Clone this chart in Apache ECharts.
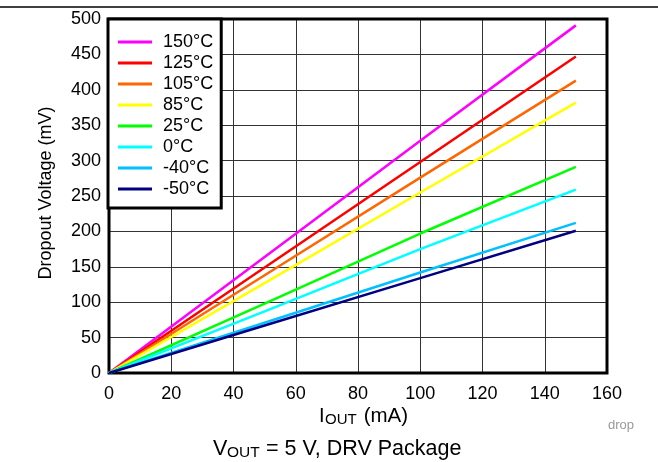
<!DOCTYPE html>
<html><head><meta charset="utf-8">
<script src="https://cdn.jsdelivr.net/npm/echarts@6/dist/echarts.min.js"></script>
<style>html,body{margin:0;padding:0;background:#fff}#c{width:658px;height:462px}</style>
</head><body><div id="c"></div>
<script>
const xValues = [0, 50, 100, 150];
const seriesNames = ['150°C','125°C','105°C','85°C','25°C','0°C','-40°C','-50°C'];
const s150 = [0, 164, 328, 491];
const s125 = [0, 149, 298, 447];
const s105 = [0, 138, 276, 413];
const s85  = [0, 127, 255, 382];
const s25  = [0, 98, 197, 291];
const s0   = [0, 87, 175, 259];
const sM40 = [0, 71, 142, 212];
const sM50 = [0, 67, 134, 201];
const xTicks = [0,20,40,60,80,100,120,140,160];
const yTicks = [0,50,100,150,200,250,300,350,400,450,500];
const colors = ['#ff00ff','#ff0000','#ff6600','#ffff00','#00ff00','#00ffff','#00c0ff','#000080'];
const allData = [s150,s125,s105,s85,s25,s0,sM40,sM50];
const font = 'Liberation Sans, Arial, Helvetica, sans-serif';

const chart = echarts.init(document.getElementById('c'), null, {renderer:'canvas'});
chart.setOption({
  animation:false,
  backgroundColor:'#fff',
  grid:{left:109,right:51,top:19,bottom:89,show:true,borderColor:'#000',borderWidth:3,backgroundColor:'transparent',z:3},
  xAxis:{type:'value',min:xTicks[0],max:xTicks[xTicks.length-1],interval:20,
    axisLine:{show:false},axisTick:{show:false},
    axisLabel:{color:'#000',fontSize:18,fontFamily:font,margin:12},
    splitLine:{show:true,lineStyle:{color:'#333',width:1}}},
  yAxis:{type:'value',min:yTicks[0],max:yTicks[yTicks.length-1],interval:50,
    axisLine:{show:false},axisTick:{show:false},
    axisLabel:{color:'#000',fontSize:18,fontFamily:font,margin:8},
    splitLine:{show:true,lineStyle:{color:'#333',width:1}},
    name:'Dropout Voltage (mV)',nameLocation:'middle',nameGap:54,nameRotate:90,
    nameTextStyle:{color:'#000',fontSize:18,fontFamily:font,padding:[0,0,0,6]}},
  legend:{orient:'vertical',left:108,top:19,data:seriesNames,
    backgroundColor:'#fff',borderColor:'#000',borderWidth:3,
    padding:[14,8,10,10],itemGap:3,itemWidth:34,itemHeight:3,icon:'rect',
    textStyle:{color:'#000',fontSize:18,fontFamily:font,padding:[0,0,0,6]},z:10},
  graphic:[
    {type:'line',shape:{x1:0,y1:7,x2:658,y2:7},style:{stroke:'#000',lineWidth:1.5},z:20},
    {type:'text',x:319,y:416,style:{text:'I',fontSize:20,fontFamily:font,fill:'#000',verticalAlign:'middle'}},
    {type:'text',x:325,y:420,style:{text:'OUT',fontSize:15,fontFamily:font,fill:'#000',verticalAlign:'middle'}},
    {type:'text',x:358,y:416,style:{text:' (mA)',fontSize:20.5,fontFamily:font,fill:'#000',verticalAlign:'middle'}},
    {type:'text',x:608,y:425,style:{text:'drop',fontSize:13,fontFamily:font,fill:'#999',verticalAlign:'middle'}},
    {type:'text',x:213,y:449,style:{text:'V',fontSize:21.5,fontFamily:font,fill:'#000',verticalAlign:'middle'}},
    {type:'text',x:227,y:453,style:{text:'OUT',fontSize:15.5,fontFamily:font,fill:'#000',verticalAlign:'middle'}},
    {type:'text',x:260,y:449,style:{text:' = 5 V, DRV Package',fontSize:21.5,fontFamily:font,fill:'#000',verticalAlign:'middle'}}
  ],
  series: seriesNames.map((n,i)=>({
    name:n,type:'line',showSymbol:false,symbol:'none',
    data: xValues.map((x,j)=>[x, allData[i][j]]),
    lineStyle:{color:colors[i],width:2.5},itemStyle:{color:colors[i]},z:5
  }))
});
</script></body></html>
